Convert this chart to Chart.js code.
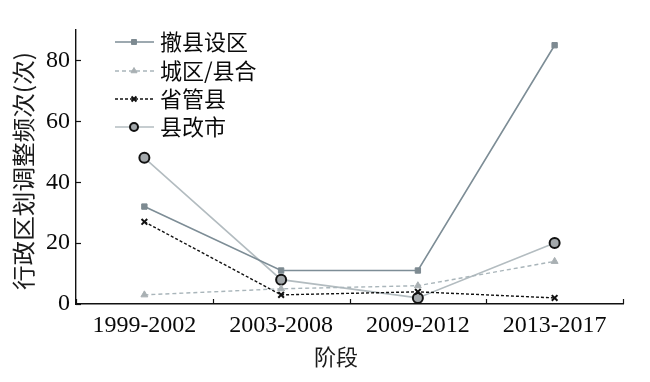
<!DOCTYPE html>
<html><head><meta charset="utf-8">
<script src="https://cdn.jsdelivr.net/npm/chart.js@4/dist/chart.umd.min.js"></script>
<style>html,body{margin:0;padding:0;background:#fff}#wrap{width:650px;height:382px}</style>
</head><body><div id="wrap"><canvas id="c" width="650" height="382"></canvas></div>
<script>
const categories = ["1999-2002", "2003-2008", "2009-2012", "2013-2017"];
const seriesNames = ["撤县设区", "城区/县合", "省管县", "县改市"];
const cxsq = [32, 11, 11, 85];
const cqxh = [3, 5, 6, 14];
const sgx = [27, 3, 4, 2];
const xgs = [48, 8, 2, 20];
const yTicks = [0, 20, 40, 60, 80];
const yTitle = "行政区划调整频次(次)";
const xTitle = "阶段";

const serif = "'Liberation Serif','DejaVu Serif',serif";
const cjk = "'Noto Sans CJK SC','Noto Sans CJK JP',sans-serif";

const datasets = [
  {label: seriesNames[0], data: cxsq, borderColor: '#7d8d96', backgroundColor: '#7d8a91', borderWidth: 1.6,
   pointStyle: 'rect', pointRadius: 3.8, pointBorderColor: '#7d8a91', pointBackgroundColor: '#7d8a91', pointBorderWidth: 1, legendRadius: 3.5},
  {label: seriesNames[1], data: cqxh, borderColor: '#a9b5ba', backgroundColor: '#a9b0b3', borderWidth: 1.4, borderDash: [4, 3],
   pointStyle: 'triangle', pointRadius: 4, pointBorderColor: '#a9b0b3', pointBackgroundColor: '#a9b0b3', pointBorderWidth: 1, legendRadius: 3.5},
  {label: seriesNames[2], data: sgx, borderColor: '#111', backgroundColor: '#111', borderWidth: 1.4, borderDash: [3, 2],
   pointStyle: 'crossRot', pointRadius: 4, pointBorderColor: '#111', pointBackgroundColor: '#111', pointBorderWidth: 2, legendRadius: 3.5},
  {label: seriesNames[3], data: xgs, borderColor: '#b3bcc0', backgroundColor: '#9ea3a6', borderWidth: 1.6,
   pointStyle: 'circle', pointRadius: 5, pointBorderColor: '#111', pointBackgroundColor: '#a3a8ab', pointBorderWidth: 2, legendRadius: 4}
];

const decor = {
  id: 'decor',
  afterDraw(chart) {
    const ctx = chart.ctx;
    const a = chart.chartArea;
    const ys = chart.scales.y;
    ctx.save();
    // inward ticks
    ctx.strokeStyle = '#111'; ctx.lineWidth = 1.2;
    yTicks.forEach(v => {
      const y = Math.round(ys.getPixelForValue(v)) + 0.5;
      ctx.beginPath(); ctx.moveTo(a.left, y); ctx.lineTo(a.left + 5, y); ctx.stroke();
    });
    for (let i = 0; i <= categories.length; i++) {
      const x = Math.round(a.left + (a.right - a.left) * i / categories.length) + 0.5;
      ctx.beginPath(); ctx.moveTo(x, a.bottom); ctx.lineTo(x, a.bottom - 5); ctx.stroke();
    }
    // axis titles
    ctx.fillStyle = '#1a1a1a';
    ctx.font = "23px " + cjk;
    ctx.textAlign = 'center'; ctx.textBaseline = 'middle';
    ctx.save();
    ctx.translate(23, 171); ctx.rotate(-Math.PI / 2);
    ctx.scale(1.07, 1);
    ctx.fillText(yTitle, 0, 0);
    ctx.restore();
    ctx.font = "22px " + cjk;
    ctx.fillText(xTitle, 336, 357);
    // legend
    const rows = [42, 71, 99, 127];
    chart.data.datasets.forEach((ds, i) => {
      const y = rows[i];
      ctx.save();
      ctx.strokeStyle = ds.borderColor; ctx.lineWidth = ds.borderWidth;
      ctx.setLineDash(ds.borderDash || []);
      ctx.beginPath(); ctx.moveTo(115, y); ctx.lineTo(154, y); ctx.stroke();
      ctx.setLineDash([]);
      ctx.fillStyle = ds.pointBackgroundColor; ctx.strokeStyle = ds.pointBorderColor; ctx.lineWidth = ds.pointBorderWidth;
      Chart.helpers.drawPoint(ctx, {pointStyle: ds.pointStyle, radius: ds.legendRadius, rotation: 0, borderWidth: ds.pointBorderWidth}, 134, y);
      ctx.restore();
      ctx.fillStyle = '#0a0a0a'; ctx.font = "22px " + cjk;
      ctx.textAlign = 'left'; ctx.textBaseline = 'middle';
      ctx.fillText(ds.label, 160, y);
    });
    ctx.restore();
  }
};

new Chart(document.getElementById('c'), {
  type: 'line',
  data: {labels: categories, datasets: datasets},
  options: {
    responsive: false, animation: false, devicePixelRatio: 1,
    layout: {padding: {top: 30, right: 27, left: 0, bottom: 0}},
    plugins: {legend: {display: false}, tooltip: {enabled: false}},
    elements: {line: {tension: 0}},
    scales: {
      x: {
        type: 'category', offset: true,
        grid: {display: false, drawTicks: false},
        border: {display: true, color: '#111', width: 1.6},
        ticks: {color: '#0a0a0a', font: {family: serif, size: 24}, padding: 7, maxRotation: 0},
        afterFit(s) { s.height = 78; }
      },
      y: {
        min: 0, max: 90,
        afterBuildTicks(s) { s.ticks = yTicks.map(v => ({value: v})); },
        grid: {display: false, drawTicks: false},
        border: {display: true, color: '#111', width: 1.4},
        ticks: {color: '#0a0a0a', font: {family: serif, size: 24}, padding: 6},
        afterFit(s) { s.width = 76; }
      }
    }
  },
  plugins: [decor]
});
</script></body></html>
